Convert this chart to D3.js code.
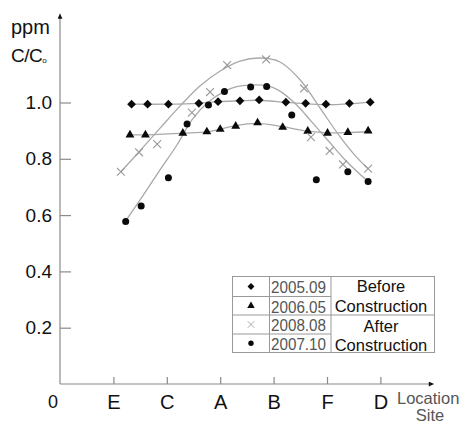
<!DOCTYPE html>
<html>
<head>
<meta charset="utf-8">
<script src="https://d3js.org/d3.v7.min.js"></script>
<style>
  body { margin: 0; background: #fff; }
  svg { font-family: "Liberation Sans", Arial, sans-serif; }
</style>
</head>
<body>
<div id="chart"></div>
<script>
// site positions along the x axis (0 = origin)
var sites = ["E", "C", "A", "B", "F", "D"];
var yTicks = [0.2, 0.4, 0.6, 0.8, 1.0];

// measured points, x = position along sites, y = C/C0
var x0509 = [1.34, 1.64, 2.03, 2.6, 2.96, 3.37, 3.73, 4.23, 4.6, 4.98, 5.42, 5.81];
var y0509 = [0.994, 0.994, 0.994, 0.997, 1.003, 1.006, 1.009, 1.001, 0.997, 0.994, 0.997, 1.001];

var x0605 = [1.31, 1.6, 2.3, 2.75, 3.0, 3.29, 3.7, 4.17, 4.64, 5.01, 5.39, 5.77];
var y0605 = [0.885, 0.885, 0.891, 0.896, 0.905, 0.916, 0.928, 0.912, 0.898, 0.891, 0.894, 0.899];

var x0808 = [1.14, 1.48, 1.82, 2.47, 2.81, 3.13, 3.86, 4.57, 4.7, 5.05, 5.3, 5.77];
var y0808 = [0.754, 0.823, 0.852, 0.964, 1.037, 1.133, 1.153, 1.05, 0.877, 0.828, 0.78, 0.765];

var x0710 = [1.23, 1.52, 2.03, 2.38, 2.78, 3.08, 3.57, 3.87, 4.34, 4.8, 5.39, 5.77];
var y0710 = [0.577, 0.632, 0.733, 0.924, 0.991, 1.039, 1.055, 1.057, 0.956, 0.726, 0.754, 0.719];

// fitted trend curves as drawn in the figure
var fitX0808 = [1.14, 1.5, 1.87, 2.25, 2.62, 3.0, 3.37, 3.75, 4.12, 4.5, 4.87, 5.25, 5.52, 5.77];
var fitY0808 = [0.754, 0.829, 0.908, 0.988, 1.059, 1.112, 1.147, 1.158, 1.144, 1.08, 0.98, 0.877, 0.813, 0.764];

var fitX0710 = [1.22, 1.56, 1.87, 2.19, 2.47, 2.75, 3.06, 3.31, 3.56, 3.87, 4.09, 4.4, 4.71, 5.02, 5.34, 5.77];
var fitY0710 = [0.577, 0.671, 0.76, 0.849, 0.938, 0.997, 1.038, 1.056, 1.062, 1.06, 1.044, 0.997, 0.932, 0.865, 0.796, 0.719];

var fitX0509 = [1.33, 2.02, 2.58, 2.96, 3.37, 3.71, 4.21, 4.59, 4.96, 5.43, 5.81];
var fitY0509 = [0.994, 0.994, 0.997, 1.003, 1.006, 1.008, 1.001, 0.995, 0.992, 0.995, 1.001];

var fitX0605 = [1.31, 1.6, 2.3, 2.75, 3.0, 3.29, 3.7, 4.17, 4.64, 5.01, 5.39, 5.77];
var fitY0605 = [0.885, 0.885, 0.891, 0.896, 0.905, 0.918, 0.926, 0.914, 0.898, 0.892, 0.893, 0.897];

var svgWidth = 465, svgHeight = 428;

var svg = d3.select("#chart").append("svg")
  .attr("width", svgWidth)
  .attr("height", svgHeight);

var x = d3.scaleLinear().domain([0, 6]).range([60, 380.4]);
var y = d3.scaleLinear().domain([0, 1]).range([384, 102.5]);

var axisColor = "#8a8a8a";

// arrow heads
var defs = svg.append("defs");
defs.append("marker")
  .attr("id", "arrow")
  .attr("viewBox", "0 0 10 10")
  .attr("refX", 10).attr("refY", 5)
  .attr("markerWidth", 9).attr("markerHeight", 5)
  .attr("markerUnits", "userSpaceOnUse")
  .attr("orient", "auto")
  .append("path")
  .attr("d", "M0,0 L10,5 L0,10 Z")
  .attr("fill", "#111");

// axis lines
svg.append("line")
  .attr("x1", x(0)).attr("y1", y(0))
  .attr("x2", x(0)).attr("y2", y(1.315))
  .attr("stroke", axisColor).attr("stroke-width", 1.2)
  .attr("marker-end", "url(#arrow)");

svg.append("line")
  .attr("x1", x(0)).attr("y1", y(0))
  .attr("x2", x(7)).attr("y2", y(0))
  .attr("stroke", axisColor).attr("stroke-width", 1.2)
  .attr("marker-end", "url(#arrow)");

// y axis ticks (pointing inward)
var yAxis = svg.append("g")
  .attr("transform", "translate(" + x(0) + ",0)")
  .call(d3.axisLeft(y).tickValues(yTicks).tickFormat(d3.format(".1f"))
    .tickSizeInner(-11).tickSizeOuter(0).tickPadding(8));
yAxis.select(".domain").remove();
yAxis.selectAll(".tick line").attr("stroke", axisColor).attr("stroke-width", 1.2);
yAxis.selectAll(".tick text")
  .attr("font-family", "Liberation Sans, Arial, sans-serif")
  .attr("font-size", 19).attr("fill", "#111");

// x axis ticks
var xAxis = svg.append("g")
  .attr("transform", "translate(0," + y(0) + ")")
  .call(d3.axisBottom(x).tickValues([1, 2, 3, 4, 5, 6])
    .tickFormat(function (d) { return sites[d - 1]; })
    .tickSizeInner(-7).tickSizeOuter(0).tickPadding(11));
xAxis.select(".domain").remove();
xAxis.selectAll(".tick line").attr("stroke", axisColor).attr("stroke-width", 1.2);
xAxis.selectAll(".tick text")
  .attr("font-family", "Liberation Sans, Arial, sans-serif")
  .attr("font-size", 20).attr("fill", "#111");

svg.append("text")
  .attr("x", 53).attr("y", 408)
  .attr("text-anchor", "middle")
  .attr("font-size", 18).attr("fill", "#111")
  .text("0");

// axis titles
svg.append("text")
  .attr("x", 11).attr("y", 34)
  .attr("font-size", 20).attr("fill", "#111")
  .text("ppm");
var cc = svg.append("text")
  .attr("x", 11).attr("y", 62)
  .attr("font-size", 19).attr("fill", "#111")
  .attr("letter-spacing", -0.5);
cc.append("tspan").text("C/C");
cc.append("tspan").attr("font-size", 8).attr("dy", 1).text("o");

svg.append("text")
  .attr("x", 397).attr("y", 404)
  .attr("font-size", 16.5).attr("fill", "#555")
  .text("Location");
svg.append("text")
  .attr("x", 430).attr("y", 421)
  .attr("text-anchor", "middle")
  .attr("font-size", 16.5).attr("fill", "#555")
  .text("Site");

// fitted curves
var line = d3.line()
  .x(function (d) { return x(d[0]); })
  .y(function (d) { return y(d[1]); })
  .curve(d3.curveCatmullRom.alpha(0.5));

var fits = [
  d3.zip(fitX0509, fitY0509),
  d3.zip(fitX0605, fitY0605),
  d3.zip(fitX0808, fitY0808),
  d3.zip(fitX0710, fitY0710)
];
svg.append("g").selectAll("path")
  .data(fits)
  .enter().append("path")
  .attr("d", line)
  .attr("fill", "none")
  .attr("stroke", "#a9a9a9")
  .attr("stroke-width", 1.3);

// markers
var diamond = d3.symbol().type(d3.symbolSquare).size(38);
var triangle = d3.symbol().type(d3.symbolTriangle).size(34);
var cross = d3.symbol().type(d3.symbolTimes).size(42);

svg.append("g").selectAll("path")
  .data(d3.zip(x0509, y0509))
  .enter().append("path")
  .attr("d", diamond)
  .attr("transform", function (d) {
    return "translate(" + x(d[0]) + "," + y(d[1]) + ") rotate(45)";
  })
  .attr("fill", "#0a0a0a");

svg.append("g").selectAll("path")
  .data(d3.zip(x0605, y0605))
  .enter().append("path")
  .attr("d", triangle)
  .attr("transform", function (d) {
    return "translate(" + x(d[0]) + "," + y(d[1]) + ")";
  })
  .attr("fill", "#0a0a0a");

svg.append("g").selectAll("path")
  .data(d3.zip(x0808, y0808))
  .enter().append("path")
  .attr("d", cross)
  .attr("transform", function (d) {
    return "translate(" + x(d[0]) + "," + y(d[1]) + ")";
  })
  .attr("fill", "none")
  .attr("stroke", "#999")
  .attr("stroke-width", 1.1);

svg.append("g").selectAll("circle")
  .data(d3.zip(x0710, y0710))
  .enter().append("circle")
  .attr("cx", function (d) { return x(d[0]); })
  .attr("cy", function (d) { return y(d[1]); })
  .attr("r", 3.5)
  .attr("fill", "#0a0a0a");

// legend table
var legend = svg.append("g");
var lg = { left: 232.5, c1: 269.5, c2: 331, right: 434.5, top: 276.5, bottom: 352.5 };
var rows = [276.5, 296.5, 315, 334, 352.5];
var tableColor = "#999";

legend.append("rect")
  .attr("x", lg.left).attr("y", lg.top)
  .attr("width", lg.right - lg.left).attr("height", lg.bottom - lg.top)
  .attr("fill", "#fff").attr("stroke", tableColor);
[lg.c1, lg.c2].forEach(function (cx) {
  legend.append("line")
    .attr("x1", cx).attr("x2", cx).attr("y1", lg.top).attr("y2", lg.bottom)
    .attr("stroke", tableColor);
});
legend.append("line")
  .attr("x1", lg.left).attr("x2", lg.c2).attr("y1", rows[1]).attr("y2", rows[1])
  .attr("stroke", tableColor);
legend.append("line")
  .attr("x1", lg.left).attr("x2", lg.right).attr("y1", rows[2]).attr("y2", rows[2])
  .attr("stroke", tableColor);
legend.append("line")
  .attr("x1", lg.left).attr("x2", lg.c2).attr("y1", rows[3]).attr("y2", rows[3])
  .attr("stroke", tableColor);

var seriesNames = ["2005.09", "2006.05", "2008.08", "2007.10"];
var baselines = [293, 312.5, 330.5, 350];
seriesNames.forEach(function (name, i) {
  var cy = (rows[i] + rows[i + 1]) / 2;
  var mx = (lg.left + lg.c1) / 2;
  if (i === 0) {
    legend.append("path").attr("d", d3.symbol().type(d3.symbolSquare).size(24))
      .attr("transform", "translate(" + mx + "," + cy + ") rotate(45)")
      .attr("fill", "#0a0a0a");
  } else if (i === 1) {
    legend.append("path").attr("d", d3.symbol().type(d3.symbolTriangle).size(24))
      .attr("transform", "translate(" + mx + "," + cy + ")")
      .attr("fill", "#0a0a0a");
  } else if (i === 2) {
    legend.append("path").attr("d", d3.symbol().type(d3.symbolTimes).size(30))
      .attr("transform", "translate(" + mx + "," + cy + ")")
      .attr("fill", "none").attr("stroke", "#aaa");
  } else {
    legend.append("circle").attr("cx", mx).attr("cy", cy).attr("r", 2.7)
      .attr("fill", "#0a0a0a");
  }
  legend.append("text")
    .attr("x", 271).attr("y", baselines[i])
    .attr("font-size", 16).attr("fill", "#555")
    .attr("textLength", 55).attr("lengthAdjust", "spacingAndGlyphs")
    .text(name);
});

var groupText = [
  { t: "Before", y: 291.5 },
  { t: "Construction", y: 312 },
  { t: "After", y: 331.5 },
  { t: "Construction", y: 350.5 }
];
groupText.forEach(function (g) {
  legend.append("text")
    .attr("x", 381).attr("y", g.y)
    .attr("text-anchor", "middle")
    .attr("font-size", 16.5).attr("fill", "#111")
    .text(g.t);
});
</script>
</body>
</html>
